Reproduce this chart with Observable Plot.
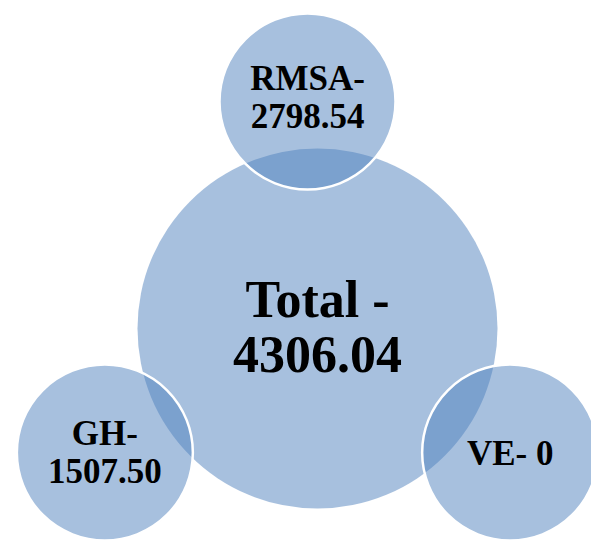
<!DOCTYPE html>
<html>
<head>
<meta charset="utf-8">
<script src="https://cdn.jsdelivr.net/npm/d3@7"></script>
<script src="https://cdn.jsdelivr.net/npm/@observablehq/plot@0.6"></script>
<style>
  html, body { margin: 0; padding: 0; background: #fff; }
</style>
</head>
<body>
<div id="chart"></div>
<script>
// ---- data ----
const categories = ["RMSA", "GH", "VE"];
const values = ["2798.54", "1507.50", "0"];
const totalLabel = "Total";
const totalValue = "4306.04";

// ---- layout (radial venn) ----
const W = 591, H = 542;
const center = {x: 307, y: 335};
const hubShift = {x: 10, y: -7};
const spoke = 234;
const angles = [-90, 150, 30];          // degrees, screen coordinates
const satR = 88, hubR = 180;
const color = "#4F81BD";

const satellites = categories.map((c, i) => {
  const a = angles[i] * Math.PI / 180;
  return {
    name: c,
    label: i === 2 ? `${c}- ${values[i]}` : `${c}-\n${values[i]}`,
    x: center.x + spoke * Math.cos(a),
    y: center.y + spoke * Math.sin(a),
    dy: i === 0 ? -5 : (i === 1 ? -1 : 0)
  };
});
const hub = [{x: center.x + hubShift.x, y: center.y + hubShift.y, label: `${totalLabel} -\n${totalValue}`}];

const font = "'Liberation Serif', 'Times New Roman', serif";

const chart = Plot.plot({
  width: W,
  height: H,
  margin: 0,
  x: {domain: [0, W], axis: null},
  y: {domain: [0, H], range: [0, H], axis: null},
  marks: [
    Plot.dot(hub, {x: "x", y: "y", r: hubR, fill: color, fillOpacity: 0.5, stroke: "none"}),
    Plot.dot(satellites, {x: "x", y: "y", r: satR, fill: color, fillOpacity: 0.5, stroke: "white", strokeWidth: 2.5}),
    Plot.text(hub, {x: "x", y: "y", text: "label", dy: -2, fontSize: 52, fontWeight: "bold", fontFamily: font, fill: "black", lineHeight: 1.06}),
    ...satellites.map(s => Plot.text([s], {x: "x", y: "y", text: "label", dy: s.dy, fontSize: 35, fontWeight: "bold", fontFamily: font, fill: "black", lineHeight: 1.11}))
  ]
});
document.getElementById("chart").appendChild(chart);
</script>
</body>
</html>
